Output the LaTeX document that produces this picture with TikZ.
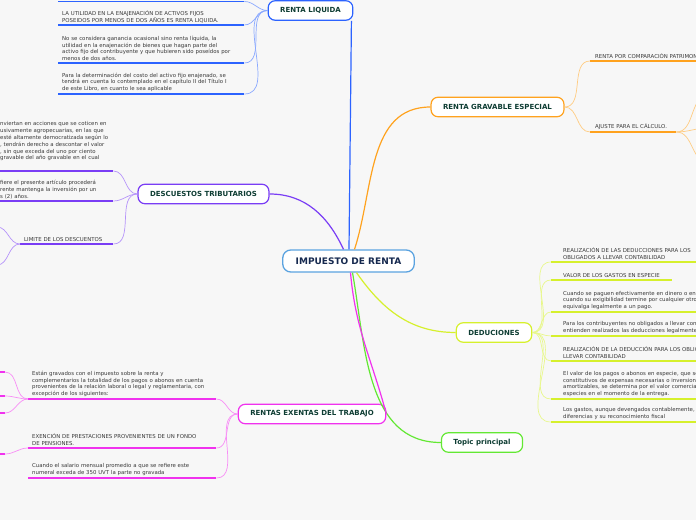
\documentclass[tikz,border=0pt]{standalone}
\usepackage{fontspec}
\setmainfont{DejaVu Sans}
\usepackage{tikz}
\definecolor{bgcol}{HTML}{F7F7F7}
\definecolor{cenline}{HTML}{5BA3E0}
\definecolor{cenink}{HTML}{16294F}
\definecolor{topink}{HTML}{0E3D33}
\definecolor{txtink}{HTML}{3A3A3A}
\definecolor{liqcol}{HTML}{2C63FF}
\definecolor{descol}{HTML}{7A3DF5}
\definecolor{rencol}{HTML}{F032EE}
\definecolor{gracol}{HTML}{FFA21E}
\definecolor{dedcol}{HTML}{D6F02C}
\definecolor{topcol}{HTML}{63E833}
\tikzset{
  central/.style={draw=cenline, line width=1.3pt, rounded corners=8pt, fill=white, minimum height=22pt, inner xsep=13pt, font=\fontsize{9}{11}\selectfont\bfseries, text=cenink},
  topic/.style={draw=#1, line width=1.2pt, rounded corners=7pt, fill=white, minimum height=19.5pt, inner xsep=12pt, font=\fontsize{7}{9}\selectfont\bfseries, text=topink},
  item/.style={anchor=south west, align=left, inner xsep=4pt, inner ysep=2pt, font=\fontsize{5.4}{6.8}\selectfont, text=txtink},
  ditem/.style={item, inner xsep=12pt},
  branch/.style={draw=#1, line width=1.2pt},
  link/.style={draw=#1!55, line width=0.7pt},
  uline/.style={draw=#1, line width=1.4pt},
}

\begin{document}
\begin{tikzpicture}[x=1pt,y=1pt]
  \useasboundingbox (0,0) rectangle (696,520);
  \clip (0,0) rectangle (696,520);
  \fill[bgcol] (0,0) rectangle (696,520);

  % main topics
  \node[central] (cen) at (348.5,259) {IMPUESTO DE RENTA};
  \node[topic=liqcol] (liq) at (310.5,509.5) {RENTA LIQUIDA};
  \node[topic=descol] (desc) at (203.5,326) {DESCUESTOS TRIBUTARIOS};
  \node[topic=gracol] (grav) at (497.5,413) {RENTA GRAVABLE ESPECIAL};
  \node[topic=dedcol] (ded) at (494,187.5) {DEDUCIONES};
  \node[topic=topcol] (tp) at (482,77.5) {Topic principal};
  \node[topic=rencol] (rent) at (312,106) {RENTAS EXENTAS DEL TRABAJO};

  \draw[branch=liqcol] ([xshift=0.5pt]cen.north) -- ([xshift=-2pt]liq.south east);
  \draw[branch=descol] (desc.east) to[out=0,in=115] ([xshift=-5pt]cen.north);
  \draw[branch=gracol] ([xshift=6pt]cen.north) to[out=72,in=180] (grav.west);
  \draw[branch=dedcol] ([xshift=8pt]cen.south) to[out=-55,in=180] (ded.west);
  \draw[branch=topcol] ([xshift=4pt]cen.south) to[out=-80,in=180] (tp.west);
  \draw[branch=rencol] ([xshift=2pt]cen.south) to[out=-85,in=105] (rent.east);

  % renta liquida
  \node[item, text width=178pt] (l0) at (58,518.5) {};
  \node[item, text width=178pt] (l1) at (58,495) {LA UTILIDAD EN LA ENAJENACIÓN DE ACTIVOS FIJOS\\POSEIDOS POR MENOS DE DOS AÑOS ES RENTA LIQUIDA.};
  \node[item, text width=178pt] (l2) at (58,457) {No se considera ganancia ocasional sino renta líquida, la\\utilidad en la enajenación de bienes que hagan parte del\\activo fijo del contribuyente y que hubieren sido poseídos por\\menos de dos años.};
  \node[item, text width=178pt] (l3) at (58,426) {Para la determinación del costo del activo fijo enajenado, se\\tendrá en cuenta lo contemplado en el capítulo II del Título I\\de este Libro, en cuanto le sea aplicable};
  \draw[uline=liqcol] (l0.south west) -- (l0.south east);
  \draw[uline=liqcol] (l1.south west) -- (l1.south east);
  \draw[uline=liqcol] (l2.south west) -- (l2.south east);
  \draw[uline=liqcol] (l3.south west) -- (l3.south east);
  \draw[link=liqcol] (liq.west) to[out=180,in=0] (l0.south east);
  \draw[link=liqcol] (liq.west) to[out=180,in=0] (l1.south east);
  \draw[link=liqcol] (liq.west) to[out=180,in=0] (l2.south east);
  \draw[link=liqcol] (liq.west) to[out=180,in=0] (l3.south east);

  % descuestos
  \node[item, text width=109pt] (d1) at (-4,349) {nviertan en acciones que se coticen en\\usivamente agropecuarias, en las que\\esté altamente democratizada según lo\\, tendrán derecho a descontar el valor\\, sin que exceda del uno por ciento\\gravable del año gravable en el cual\\ \strut};
  \node[item, text width=109pt] (d2) at (-4,319) {fiere el presente artículo procederá\\rente mantenga la inversión por un\\s (2) años.};
  \node[item, text width=85pt] (d3) at (20,276) {LIMITE DE LOS DESCUENTOS};
  \coordinate (lim1) at (-3,293);
  \coordinate (lim2) at (-3,255);
  \draw[uline=descol] (d1.south west) -- (d1.south east);
  \draw[uline=descol] (d2.south west) -- (d2.south east);
  \draw[uline=descol] (d3.south west) -- (d3.south east);
  \draw[link=descol] (desc.west) to[out=180,in=0] (d1.south east);
  \draw[link=descol] (desc.west) to[out=180,in=0] (d2.south east);
  \draw[link=descol] (desc.west) to[out=180,in=0] (d3.south east);
  \draw[link=descol] (d3.south west) to[out=180,in=0] (lim1);
  \draw[link=descol] (d3.south west) to[out=180,in=0] (lim2);

  % rentas exentas
  \node[item, text width=180pt] (r1) at (28,121) {Están gravados con el impuesto sobre la renta y\\complementarios la totalidad de los pagos o abonos en cuenta\\provenientes de la relación laboral o legal y reglamentaria, con\\excepción de los siguientes:};
  \node[item, text width=180pt] (r2) at (28,72) {EXENCIÓN DE PRESTACIONES PROVENIENTES DE UN FONDO\\DE PENSIONES.};
  \node[item, text width=180pt] (r3) at (28,42) {Cuando el salario mensual promedio a que se refiere este\\numeral exceda de 350 UVT la parte no gravada};
  \coordinate (e1) at (5,148);
  \coordinate (e2) at (5,124);
  \coordinate (e3) at (5,107);
  \coordinate (e4) at (5,66);
  \draw[uline=rencol] (r1.south west) -- (r1.south east);
  \draw[uline=rencol] (r2.south west) -- (r2.south east);
  \draw[uline=rencol] (r3.south west) -- (r3.south east);
  \draw[uline=rencol] (e1) -- ++(-10,0);
  \draw[uline=rencol] (e2) -- ++(-10,0);
  \draw[uline=rencol] (e3) -- ++(-10,0);
  \draw[uline=rencol] (e4) -- ++(-10,0);
  \draw[link=rencol] (rent.west) to[out=180,in=0] (r1.south east);
  \draw[link=rencol] (rent.west) to[out=180,in=0] (r2.south east);
  \draw[link=rencol] (rent.west) to[out=180,in=0] (r3.south east);
  \draw[link=rencol] (r1.south west) to[out=180,in=0] (e1);
  \draw[link=rencol] (r1.south west) to[out=180,in=0] (e2);
  \draw[link=rencol] (r1.south west) to[out=180,in=0] (e3);
  \draw[link=rencol] (r2.south west) to[out=180,in=0] (e4);

  % renta gravable especial
  \node[item, inner xsep=5pt, text width=150pt] (g1) at (590,459) {RENTA POR COMPARACIÓN PATRIMONIAL};
  \node[item, inner xsep=5pt, text width=76pt] (g2) at (590,388) {AJUSTE PARA EL CÁLCULO.};
  \coordinate (a1) at (708,424);
  \coordinate (a2) at (708,392);
  \coordinate (a3) at (708,358);
  \draw[uline=gracol] (g1.south west) -- (g1.south east);
  \draw[uline=gracol] (g2.south west) -- (g2.south east);
  \draw[link=gracol] (grav.east) to[out=0,in=180] (g1.south west);
  \draw[link=gracol] (grav.east) to[out=0,in=180] (g2.south west);
  \draw[link=gracol] (g2.south east) to[out=0,in=180] (a1);
  \draw[link=gracol] (g2.south east) to[out=0,in=180] (a2);
  \draw[link=gracol] (g2.south east) to[out=0,in=180] (a3);

  % deduciones
  \node[ditem, text width=200pt] (k1) at (551,258) {REALIZACIÓN DE LAS DEDUCCIONES PARA LOS\\OBLIGADOS A LLEVAR CONTABILIDAD};
  \node[ditem] (k2) at (551,240) {VALOR DE LOS GASTOS EN ESPECIE};
  \node[ditem, text width=200pt] (k3) at (551,208) {Cuando se paguen efectivamente en dinero o en\\cuando su exigibilidad termine por cualquier otro\\equivalga legalmente a un pago.};
  \node[ditem, text width=200pt] (k4) at (551,184) {Para los contribuyentes no obligados a llevar contabilidad\\entienden realizados las deducciones legalmente};
  \node[ditem, text width=200pt] (k5) at (551,159) {REALIZACIÓN DE LA DEDUCCIÓN PARA LOS OBLIGADOS\\LLEVAR CONTABILIDAD};
  \node[ditem, text width=200pt] (k6) at (551,121) {El valor de los pagos o abonos en especie, que sean\\constitutivos de expensas necesarias o inversiones\\amortizables, se determina por el valor comercial\\especies en el momento de la entrega.};
  \node[ditem, text width=200pt] (k7) at (551,98) {Los gastos, aunque devengados contablemente,\\diferencias y su reconocimiento fiscal};
  \draw[uline=dedcol] (k1.south west) -- (k1.south east);
  \draw[uline=dedcol] (k2.south west) -- (k2.south east);
  \draw[uline=dedcol] (k3.south west) -- (k3.south east);
  \draw[uline=dedcol] (k4.south west) -- (k4.south east);
  \draw[uline=dedcol] (k5.south west) -- (k5.south east);
  \draw[uline=dedcol] (k6.south west) -- (k6.south east);
  \draw[uline=dedcol] (k7.south west) -- (k7.south east);
  \draw[link=dedcol] (ded.east) to[out=0,in=180] (k1.south west);
  \draw[link=dedcol] (ded.east) to[out=0,in=180] (k2.south west);
  \draw[link=dedcol] (ded.east) to[out=0,in=180] (k3.south west);
  \draw[link=dedcol] (ded.east) to[out=0,in=180] (k4.south west);
  \draw[link=dedcol] (ded.east) to[out=0,in=180] (k5.south west);
  \draw[link=dedcol] (ded.east) to[out=0,in=180] (k6.south west);
  \draw[link=dedcol] (ded.east) to[out=0,in=180] (k7.south west);

\end{tikzpicture}
\end{document}
